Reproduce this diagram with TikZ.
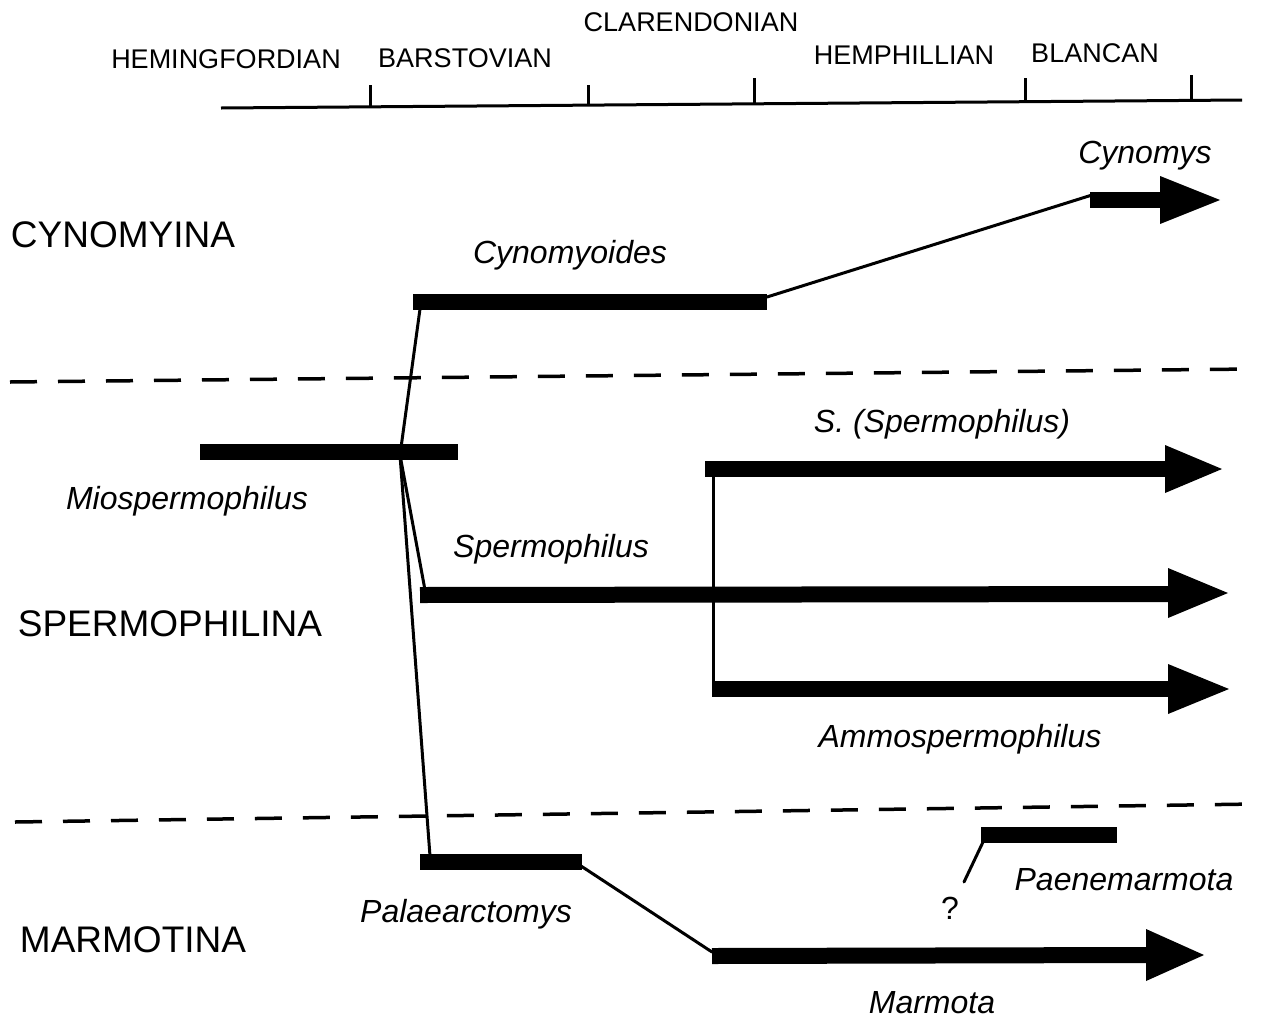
\documentclass[tikz,border=0pt]{standalone}
\usepackage{fontspec}
\setmainfont{Liberation Sans}
\usetikzlibrary{calc}
\begin{document}
\begin{tikzpicture}[x=1pt,y=-1pt,
  stage/.style={font=\fontsize{27}{30}\selectfont, anchor=base, inner sep=0pt},
  group/.style={font=\fontsize{37}{40}\selectfont, anchor=base, inner sep=0pt},
  taxon/.style={font=\fontsize{32}{35}\selectfont\itshape, anchor=base, inner sep=0pt},
  bar/.style={line width=16pt, line cap=butt},
  link/.style={line width=3pt, line cap=round},
  axis/.style={line width=3pt},
  divider/.style={line width=3.5pt, dash pattern=on 27pt off 21pt},
  head/.style={fill=black}]
\useasboundingbox[fill=white] (0,0) rectangle (1261,1018);

% time axis
\coordinate (ax0) at (221,108);
\coordinate (ax1) at (1242,100);
\draw[axis] (ax0) -- (ax1);
\foreach \x/\yt/\yb [count=\i] in {370/85/107, 588/85/105, 754/78/104, 1025/78/103, 1191/75/101}{
  \coordinate (t\i a) at (\x,\yt);
  \coordinate (t\i b) at (\x,\yb);
  \draw[axis] (t\i a) -- (t\i b);
}
\node[stage] (hem) at (226,68) {HEMINGFORDIAN};
\node[stage] (bar) at (465,67) {BARSTOVIAN};
\node[stage] (cla) at (691,31) {CLARENDONIAN};
\node[stage] (hph) at (904,64) {HEMPHILLIAN};
\node[stage] (bla) at (1095,62) {BLANCAN};

% group labels
\node[group] (cyn) at (123,247) {CYNOMYINA};
\node[group] (spe) at (170,636) {SPERMOPHILINA};
\node[group] (mar) at (133,952) {MARMOTINA};

% dividers
\coordinate (d1a) at (10,382);
\coordinate (d1b) at (1252,369);
\coordinate (d2a) at (15,822);
\coordinate (d2b) at (1255,804);
\draw[divider] (d1a) -- (d1b);
\draw[divider] (d2a) -- (d2b);

% bars
\coordinate (cyoL) at (413,302); \coordinate (cyoR) at (767,302);
\draw[bar] (cyoL) -- (cyoR);
\coordinate (mioL) at (200,452); \coordinate (mioR) at (458,452);
\draw[bar] (mioL) -- (mioR);
\coordinate (palL) at (420,862); \coordinate (palR) at (582,862);
\draw[bar] (palL) -- (palR);
\coordinate (paeL) at (981,835); \coordinate (paeR) at (1117,835);
\draw[bar] (paeL) -- (paeR);

% arrows: shaft + head
\coordinate (cysL) at (1090,200); \coordinate (cysB) at (1160,200);
\draw[bar] (cysL) -- (cysB);
\fill[head] (1160,176) -- (1220,200) -- (1160,224) -- cycle;

\coordinate (sspL) at (705,469); \coordinate (sspB) at (1165,469);
\draw[bar] (sspL) -- (sspB);
\fill[head] (1165,445) -- (1222,469) -- (1165,493) -- cycle;

\coordinate (speL) at (420,595); \coordinate (speB) at (1168,594);
\draw[bar] (speL) -- (speB);
\fill[head] (1168,568) -- (1228,593) -- (1168,618) -- cycle;

\coordinate (ammL) at (712,689); \coordinate (ammB) at (1168,689);
\draw[bar] (ammL) -- (ammB);
\fill[head] (1168,664) -- (1229,689) -- (1168,714) -- cycle;

\coordinate (marL) at (712,956); \coordinate (marB) at (1146,955);
\draw[bar] (marL) -- (marB);
\fill[head] (1146,929) -- (1204,955) -- (1146,981) -- cycle;

% connectors
\coordinate (c1) at (767,297); \coordinate (c2) at (1092,195);
\draw[link] (c1) -- (c2);
\coordinate (c3) at (420,309); \coordinate (node) at (400,455);
\draw[link] (c3) -- (node);
\coordinate (c4) at (425,590);
\draw[link] (node) -- (c4);
\coordinate (c5) at (430,856);
\draw[link] (node) -- (c5);
\coordinate (v1) at (713,469); \coordinate (v2) at (713,689);
\draw[link] (v1) -- (v2);
\coordinate (c6) at (581,866); \coordinate (c7) at (712,952);
\draw[link] (c6) -- (c7);
\coordinate (c8) at (983,842); \coordinate (c9) at (964,882);
\draw[link] (c8) -- (c9);

% taxon labels
\node[taxon] (lcys) at (1145,163) {Cynomys};
\node[taxon] (lcyo) at (570,263) {Cynomyoides};
\node[taxon] (lmio) at (187,509) {Miospermophilus};
\node[taxon] (lspe) at (551,557) {Spermophilus};
\node[taxon] (lssp) at (942,432) {S. (Spermophilus)};
\node[taxon] (lamm) at (960,747) {Ammospermophilus};
\node[taxon] (lpal) at (466,922) {Palaearctomys};
\node[taxon] (lpae) at (1124,890) {Paenemarmota};
\node[taxon] (lmar) at (932,1013) {Marmota};
\node[stage, font=\fontsize{32}{34}\selectfont] (q) at (950,919) {?};
\end{tikzpicture}
\end{document}
